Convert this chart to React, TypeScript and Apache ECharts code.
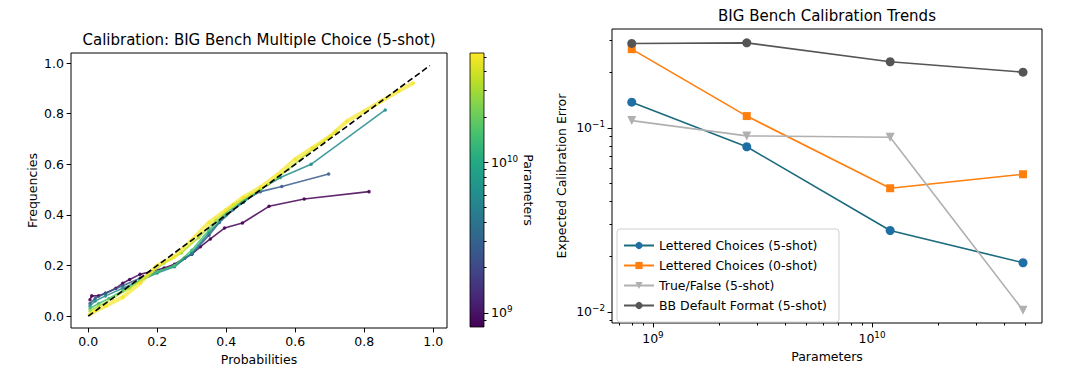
import React, { useEffect, useRef } from 'react';
import * as echarts from 'echarts';

const FONT = 'DejaVu Sans';

// ---------- Left panel: calibration curves ----------
const probTicks = [0, 0.2, 0.4, 0.6, 0.8, 1.0];
const curveParams = [8e8, 2.7e9, 6e9, 1.5e10, 3e10, 5e10];
const curve800M = [
  [0.005, 0.065], [0.01, 0.08], [0.03, 0.08], [0.05, 0.09], [0.08, 0.11], [0.1, 0.13], [0.12, 0.145],
  [0.15, 0.165], [0.18, 0.175], [0.22, 0.19], [0.25, 0.205], [0.28, 0.23], [0.3, 0.245], [0.325, 0.274],
  [0.354, 0.305], [0.395, 0.348], [0.447, 0.368], [0.524, 0.434], [0.626, 0.463], [0.814, 0.492],
];
const curve2B7 = [
  [0.005, 0.05], [0.02, 0.07], [0.05, 0.09], [0.1, 0.12], [0.15, 0.15], [0.2, 0.175], [0.25, 0.2],
  [0.3, 0.245], [0.35, 0.32], [0.38, 0.37], [0.42, 0.42], [0.445, 0.452], [0.499, 0.492], [0.561, 0.512],
  [0.697, 0.562],
];
const curve6B = [
  [0.005, 0.04], [0.02, 0.06], [0.05, 0.08], [0.1, 0.11], [0.15, 0.14], [0.2, 0.17], [0.25, 0.195],
  [0.3, 0.25], [0.35, 0.33], [0.4, 0.4], [0.45, 0.45], [0.499, 0.501], [0.557, 0.548], [0.646, 0.6],
  [0.861, 0.815],
];
const curve15B = [
  [0.005, 0.03], [0.03, 0.05], [0.06, 0.07], [0.1, 0.1], [0.15, 0.14], [0.2, 0.175], [0.25, 0.2],
  [0.3, 0.26], [0.35, 0.34], [0.4, 0.41], [0.45, 0.46], [0.5, 0.5], [0.55, 0.55],
];
const curve30B = [
  [0.005, 0.02], [0.03, 0.04], [0.07, 0.07], [0.12, 0.11], [0.17, 0.16], [0.22, 0.21], [0.27, 0.25],
  [0.32, 0.31], [0.37, 0.38], [0.42, 0.44], [0.47, 0.48], [0.52, 0.52], [0.58, 0.58], [0.65, 0.66],
  [0.72, 0.73],
];
const curve50B = [
  [0.003, 0.005], [0.02, 0.02], [0.05, 0.04], [0.1, 0.075], [0.15, 0.13], [0.2, 0.2], [0.25, 0.235],
  [0.3, 0.3], [0.35, 0.37], [0.4, 0.42], [0.45, 0.47], [0.5, 0.51], [0.55, 0.56], [0.6, 0.62],
  [0.65, 0.665], [0.7, 0.71], [0.75, 0.77], [0.8, 0.81], [0.85, 0.85], [0.9, 0.89], [0.942, 0.921],
];
const calibCurves = [curve800M, curve2B7, curve6B, curve15B, curve30B, curve50B];
const diagonal = [[0, 0], [0.99, 0.99]];

// ---------- Colorbar ----------
const cbarMin = 8.07e8;
const cbarMax = 5.3e10;
const cbarMajorTicks = [1e9, 1e10];
const cbarMinorTicks = [9e8, 2e9, 3e9, 4e9, 5e9, 6e9, 7e9, 8e9, 9e9, 2e10, 3e10, 4e10, 5e10];

// ---------- Right panel: ECE trends ----------
const modelParams = [8.0e8, 2.68e9, 1.21e10, 4.89e10];
const letteredFiveShot = [0.138, 0.079, 0.0277, 0.0185];
const letteredZeroShot = [0.268, 0.116, 0.047, 0.056];
const trueFalseFiveShot = [0.1096, 0.0905, 0.089, 0.0102];
const bbDefaultFiveShot = [0.288, 0.29, 0.229, 0.201];
const paramMajorTicks = [1e9, 1e10];
const paramMinorTicks = [7e8, 8e8, 9e8, 2e9, 3e9, 4e9, 5e9, 6e9, 7e9, 8e9, 9e9, 2e10, 3e10, 4e10, 5e10];
const eceMajorTicks = [0.01, 0.1];
const eceMinorTicks = [0.009, 0.02, 0.03, 0.04, 0.05, 0.06, 0.07, 0.08, 0.09, 0.2, 0.3];

const VIRIDIS = ['#440154', '#482475', '#414487', '#355f8d', '#2a788e', '#21918c', '#22a884', '#44bf70', '#7ad151', '#bddf26', '#fde725'];

function hexToRgb(h: string) {
  return [parseInt(h.slice(1, 3), 16), parseInt(h.slice(3, 5), 16), parseInt(h.slice(5, 7), 16)];
}
function viridis(t: number) {
  const tt = Math.max(0, Math.min(1, t)) * (VIRIDIS.length - 1);
  const i = Math.min(VIRIDIS.length - 2, Math.floor(tt));
  const f = tt - i;
  const a = hexToRgb(VIRIDIS[i]);
  const b = hexToRgb(VIRIDIS[i + 1]);
  const c = a.map((v, k) => Math.round(v + (b[k] - v) * f));
  return `rgb(${c[0]},${c[1]},${c[2]})`;
}
function paramColor(p: number) {
  const lo = Math.log10(cbarMin);
  const hi = Math.log10(cbarMax);
  return viridis((Math.log10(p) - lo) / (hi - lo));
}

const FS = 12.5;
const supFmt = (v: number) => {
  const e = Math.round(Math.log10(v));
  return `{b|10}{s|${e < 0 ? '\u2212' + -e : e}}`;
};
const supRich = {
  b: { fontSize: FS, fontFamily: FONT, color: '#000' },
  s: { fontSize: 8.8, fontFamily: FONT, color: '#000', padding: [0, 0, 7, 0] },
};

const tickLabel = { color: '#000', fontSize: FS, fontFamily: FONT };
const nameText = { color: '#000', fontSize: FS, fontFamily: FONT };
const noLine = { show: false, onZero: false };

export default function App() {
  const ref = useRef<HTMLDivElement>(null);
  useEffect(() => {
    if (!ref.current) return;
    document.body.style.margin = '0';
    const chart = echarts.init(ref.current, undefined, { renderer: 'svg' });

    const gridBox = { show: true, borderColor: '#000', borderWidth: 1, backgroundColor: 'rgba(0,0,0,0)' };
    const hiddenAxis = (gi: number) => ({ type: 'value', gridIndex: gi, show: false, min: 0, max: 1 });

    const leftSeries = calibCurves.map((pts, i) => {
      const color = paramColor(curveParams[i]);
      const last = i === calibCurves.length - 1;
      return {
        type: 'line',
        xAxisIndex: 0,
        yAxisIndex: 0,
        data: pts,
        symbol: 'circle',
        symbolSize: 3.5,
        lineStyle: { color, width: last ? 4 : 1.6, opacity: last ? 0.7 : 0.85 },
        itemStyle: { color, opacity: 0.85 },
        z: 2 + i,
        silent: true,
      };
    });

    const mkRight = (name: string, vals: number[], line: string, marker: string, symbol: string, rotate = 0) => ({
      type: 'line',
      name,
      xAxisIndex: 1,
      yAxisIndex: 1,
      data: modelParams.map((p, i) => [p, vals[i]]),
      symbol,
      symbolRotate: rotate,
      symbolSize: symbol === 'rect' ? 8 : 9,
      lineStyle: { color: line, width: 1.6 },
      itemStyle: { color: marker },
      silent: true,
    });

    chart.setOption({
      animation: false,
      backgroundColor: '#fff',
      textStyle: { fontFamily: FONT },
      grid: [
        { left: 71, top: 53, width: 376, height: 275, ...gridBox },
        { left: 612, top: 29, width: 430, height: 294, ...gridBox },
        { left: 612, top: 29, width: 430, height: 294, show: false },
        { left: 470, top: 53, width: 14, height: 274, show: false },
        { left: 470, top: 53, width: 14, height: 274, show: false },
      ],
      xAxis: [
        {
          type: 'value', gridIndex: 0, min: -0.05, max: 1.04,
          splitLine: { show: false }, axisLine: noLine,
          axisTick: { show: true, length: 4.4, customValues: probTicks, lineStyle: { color: '#000' } },
          axisLabel: { ...tickLabel, margin: 7, customValues: probTicks, formatter: (v: number) => v.toFixed(1) },
          name: 'Probabilities', nameLocation: 'middle', nameGap: 24, nameTextStyle: nameText,
        },
        {
          type: 'log', gridIndex: 1, min: 6.5e8, max: 5.97e10,
          splitLine: { show: false }, axisLine: noLine,
          axisTick: { show: true, length: 4.4, customValues: paramMajorTicks, lineStyle: { color: '#000' } },
          axisLabel: { margin: 7, customValues: paramMajorTicks, formatter: supFmt, rich: supRich },
          name: 'Parameters', nameLocation: 'middle', nameGap: 27, nameTextStyle: nameText,
        },
        {
          type: 'log', gridIndex: 2, min: 6.5e8, max: 5.97e10,
          splitLine: { show: false }, axisLine: noLine, axisLabel: { show: false },
          axisTick: { show: true, length: 2.5, customValues: paramMinorTicks, lineStyle: { color: '#000' } },
        },
        hiddenAxis(3),
        hiddenAxis(4),
      ],
      yAxis: [
        {
          type: 'value', gridIndex: 0, min: -0.047, max: 1.04,
          splitLine: { show: false }, axisLine: noLine,
          axisTick: { show: true, length: 4.4, customValues: probTicks, lineStyle: { color: '#000' } },
          axisLabel: { ...tickLabel, margin: 7, customValues: probTicks, formatter: (v: number) => v.toFixed(1) },
          name: 'Frequencies', nameLocation: 'middle', nameGap: 32, nameTextStyle: nameText,
        },
        {
          type: 'log', gridIndex: 1, min: 0.0087, max: 0.345,
          splitLine: { show: false }, axisLine: noLine,
          axisTick: { show: true, length: 4.4, customValues: eceMajorTicks, lineStyle: { color: '#000' } },
          axisLabel: { margin: 7, customValues: eceMajorTicks, formatter: supFmt, rich: supRich },
          name: 'Expected Calibration Error', nameLocation: 'middle', nameGap: 44, nameTextStyle: nameText,
        },
        {
          type: 'log', gridIndex: 2, min: 0.0087, max: 0.345,
          splitLine: { show: false }, axisLine: noLine, axisLabel: { show: false },
          axisTick: { show: true, length: 2.5, customValues: eceMinorTicks, lineStyle: { color: '#000' } },
        },
        {
          type: 'log', gridIndex: 3, min: cbarMin, max: cbarMax, position: 'right',
          splitLine: { show: false }, axisLine: noLine,
          axisTick: { show: true, length: 4.4, customValues: cbarMajorTicks, lineStyle: { color: '#000' } },
          axisLabel: { margin: 7, customValues: cbarMajorTicks, formatter: supFmt, rich: supRich },
          name: 'Parameters', nameLocation: 'middle', nameRotate: -90, nameGap: 32, nameTextStyle: nameText,
        },
        {
          type: 'log', gridIndex: 4, min: cbarMin, max: cbarMax, position: 'right',
          splitLine: { show: false }, axisLine: noLine, axisLabel: { show: false },
          axisTick: { show: true, length: 2.5, customValues: cbarMinorTicks, lineStyle: { color: '#000' } },
        },
      ],
      legend: {
        orient: 'vertical',
        left: 617,
        top: 229,
        itemWidth: 30,
        itemHeight: 9,
        itemGap: 5,
        padding: [9, 12, 9, 6],
        backgroundColor: 'rgba(255,255,255,0.8)',
        borderColor: '#d0d0d0',
        borderWidth: 1,
        borderRadius: 3,
        selectedMode: false,
        textStyle: { color: '#000', fontSize: FS, fontFamily: FONT, lineHeight: 15 },
        data: ['Lettered Choices (5-shot)', 'Lettered Choices (0-shot)', 'True/False (5-shot)', 'BB Default Format (5-shot)'],
      },
      graphic: [
        {
          type: 'text', x: 259, y: 40,
          style: { text: 'Calibration: BIG Bench Multiple Choice (5-shot)', align: 'center', verticalAlign: 'middle', fontSize: 15, fontFamily: FONT, fill: '#000' },
        },
        {
          type: 'text', x: 827, y: 16,
          style: { text: 'BIG Bench Calibration Trends', align: 'center', verticalAlign: 'middle', fontSize: 15, fontFamily: FONT, fill: '#000' },
        },
        {
          type: 'rect',
          shape: { x: 470, y: 53, width: 14, height: 274 },
          style: {
            fill: new echarts.graphic.LinearGradient(0, 1, 0, 0, VIRIDIS.map((c, i) => ({ offset: i / (VIRIDIS.length - 1), color: c }))),
            stroke: '#000',
            lineWidth: 0.8,
          },
          z: 0,
        },
      ],
      series: [
        ...leftSeries,
        {
          type: 'line', xAxisIndex: 0, yAxisIndex: 0, data: diagonal, symbol: 'none', silent: true,
          lineStyle: { color: '#000', width: 1.6, type: [6, 3] }, z: 20,
        },
        mkRight('Lettered Choices (5-shot)', letteredFiveShot, '#1b6b7d', '#1f6fa5', 'circle'),
        mkRight('Lettered Choices (0-shot)', letteredZeroShot, '#ff7f0e', '#ff7f0e', 'rect'),
        mkRight('True/False (5-shot)', trueFalseFiveShot, '#b0b0b0', '#b0b0b0', 'triangle', 180),
        mkRight('BB Default Format (5-shot)', bbDefaultFiveShot, '#555555', '#555555', 'circle'),
      ],
    });
    return () => chart.dispose();
  }, []);
  return <div ref={ref} style={{ width: 1080, height: 383 }} />;
}
